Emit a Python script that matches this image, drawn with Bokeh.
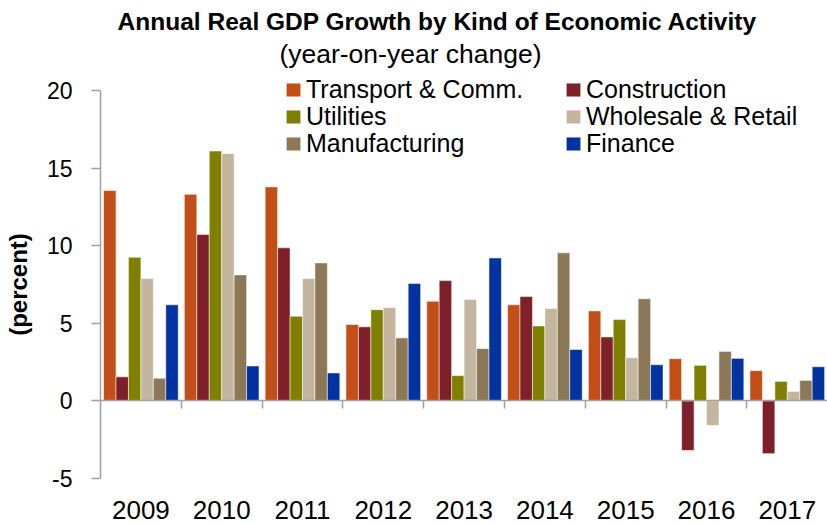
import numpy as np
from bokeh.plotting import figure
from bokeh.models import ColumnDataSource, LinearAxis, FixedTicker, Range1d, Legend, LegendItem, Label
from bokeh.embed import file_html
from bokeh.resources import INLINE

# ---------------- data ----------------
years = ["2009", "2010", "2011", "2012", "2013", "2014", "2015", "2016", "2017"]
series = ["Transport & Comm.", "Construction", "Utilities",
          "Wholesale & Retail", "Manufacturing", "Finance"]
transport = [13.55, 13.31, 13.79, 4.92, 6.42, 6.19, 5.80, 2.72, 1.95]
construction = [1.55, 10.72, 9.86, 4.77, 7.75, 6.72, 4.12, -3.19, -3.40]
utilities = [9.25, 16.10, 5.45, 5.88, 1.63, 4.83, 5.24, 2.29, 1.26]
wholesale = [7.88, 15.93, 7.88, 6.01, 6.53, 5.95, 2.78, -1.58, 0.61]
manufacturing = [1.46, 8.12, 8.89, 4.06, 3.37, 9.54, 6.58, 3.19, 1.32]
finance = [6.19, 2.25, 1.80, 7.56, 9.21, 3.31, 2.33, 2.74, 2.20]
colors = ["#C24F18", "#7D2029", "#808000", "#C4B59E", "#8C7757", "#0033A0"]
y_ticks = [-5, 0, 5, 10, 15, 20]
y_tick_labels = ["-5", "0", "5", "10", "15", "20"]
y_min, y_max = -5, 20

values = [transport, construction, utilities, wholesale, manufacturing, finance]

# ---------------- layout ----------------
W, H = 827, 525
x_px = 80.8          # pixels per category
left_px = 100        # canvas px of first category's left edge
y_px = 15.52         # pixels per percent
top_px = 90          # canvas px of y_max
FONT = "Liberation Sans"

x_range = Range1d(-0.5 - left_px / x_px, -0.5 + (W - left_px) / x_px)
y_range = Range1d(y_max - (H - top_px) / y_px, y_max + top_px / y_px)

p = figure(width=W, height=H, x_range=x_range, y_range=y_range,
           x_axis_type=None, y_axis_type=None, output_backend="svg",
           toolbar_location=None, min_border=0, outline_line_color=None,
           background_fill_color="white", border_fill_color="white")
p.grid.visible = False

n = len(series)
bw = 0.154
xs = np.arange(len(years))
renderers = []
for i, (name, vals, col) in enumerate(zip(series, values, colors)):
    src = ColumnDataSource(dict(x=xs + (i - (n - 1) / 2) * bw, top=vals))
    r = p.vbar(x="x", top="top", bottom=0, width=bw, source=src,
               fill_color=col, line_color="white", line_alpha=0.5, line_width=1)
    renderers.append(r)

AX = "#A0A0A0"
# y axis
yaxis = LinearAxis(fixed_location=-0.5, bounds=(y_min, y_max),
                   ticker=FixedTicker(ticks=y_ticks),
                   major_label_overrides={t: s for t, s in zip(y_ticks, y_tick_labels)},
                   axis_line_color=AX, axis_line_width=1.5,
                   major_tick_line_color=AX, major_tick_line_width=1.5,
                   major_tick_out=9, major_tick_in=0, minor_tick_line_color=None,
                   major_label_text_font=FONT, major_label_text_font_size="23px",
                   major_label_text_color="black", major_label_standoff=19,
                   axis_label="(percent)", axis_label_text_font=FONT,
                   axis_label_text_font_style="bold", axis_label_text_font_size="24px",
                   axis_label_text_color="black", axis_label_standoff=12)
p.add_layout(yaxis, "left")

# zero line axis with category-boundary ticks (no labels)
zaxis = LinearAxis(fixed_location=0, bounds=(-0.5, len(years) - 0.5),
                   ticker=FixedTicker(ticks=list(xs[:-1] + 0.5)),
                   axis_line_color=AX, axis_line_width=1.5,
                   major_tick_line_color=AX, major_tick_line_width=1.5,
                   major_tick_out=8, major_tick_in=0, minor_tick_line_color=None,
                   major_label_text_color=None)
p.add_layout(zaxis, "below")

# year labels
xaxis = LinearAxis(fixed_location=y_min, ticker=FixedTicker(ticks=list(xs)),
                   major_label_overrides={int(i): y for i, y in zip(xs, years)},
                   axis_line_color=None, major_tick_line_color=None,
                   minor_tick_line_color=None,
                   major_label_text_font=FONT, major_label_text_font_size="26px",
                   major_label_text_color="black", major_label_standoff=16)
p.add_layout(xaxis, "below")

# titles
p.add_layout(Label(x=437, y=H - 21, x_units="screen", y_units="screen",
                   text="Annual Real GDP Growth by Kind of Economic Activity",
                   text_align="center", text_baseline="alphabetic",
                   text_font=FONT, text_font_style="bold", text_font_size="24.5px",
                   text_color="black"))
p.add_layout(Label(x=410, y=H - 53, x_units="screen", y_units="screen",
                   text="(year-on-year change)",
                   text_align="center", text_baseline="alphabetic",
                   text_font=FONT, text_font_size="26.5px", text_color="black"))

# legends: two columns, three rows
col_x = [284, 564]
row_center = [90, 116.8, 143.6]
row_h = 28
for i, (name, r) in enumerate(zip(series, renderers)):
    c, rr = i % 2, i // 2
    leg = Legend(items=[LegendItem(label=name, renderers=[r])],
                 location=(col_x[c], H - row_center[rr] - row_h / 2),
                 padding=0, margin=0, spacing=0, border_line_color=None,
                 background_fill_alpha=0, glyph_width=18, glyph_height=17,
                 label_standoff=4, label_text_font=FONT,
                 label_text_font_size="25px", label_text_color="black")
    p.add_layout(leg)

open("out.html", "w").write(file_html(p, INLINE))
